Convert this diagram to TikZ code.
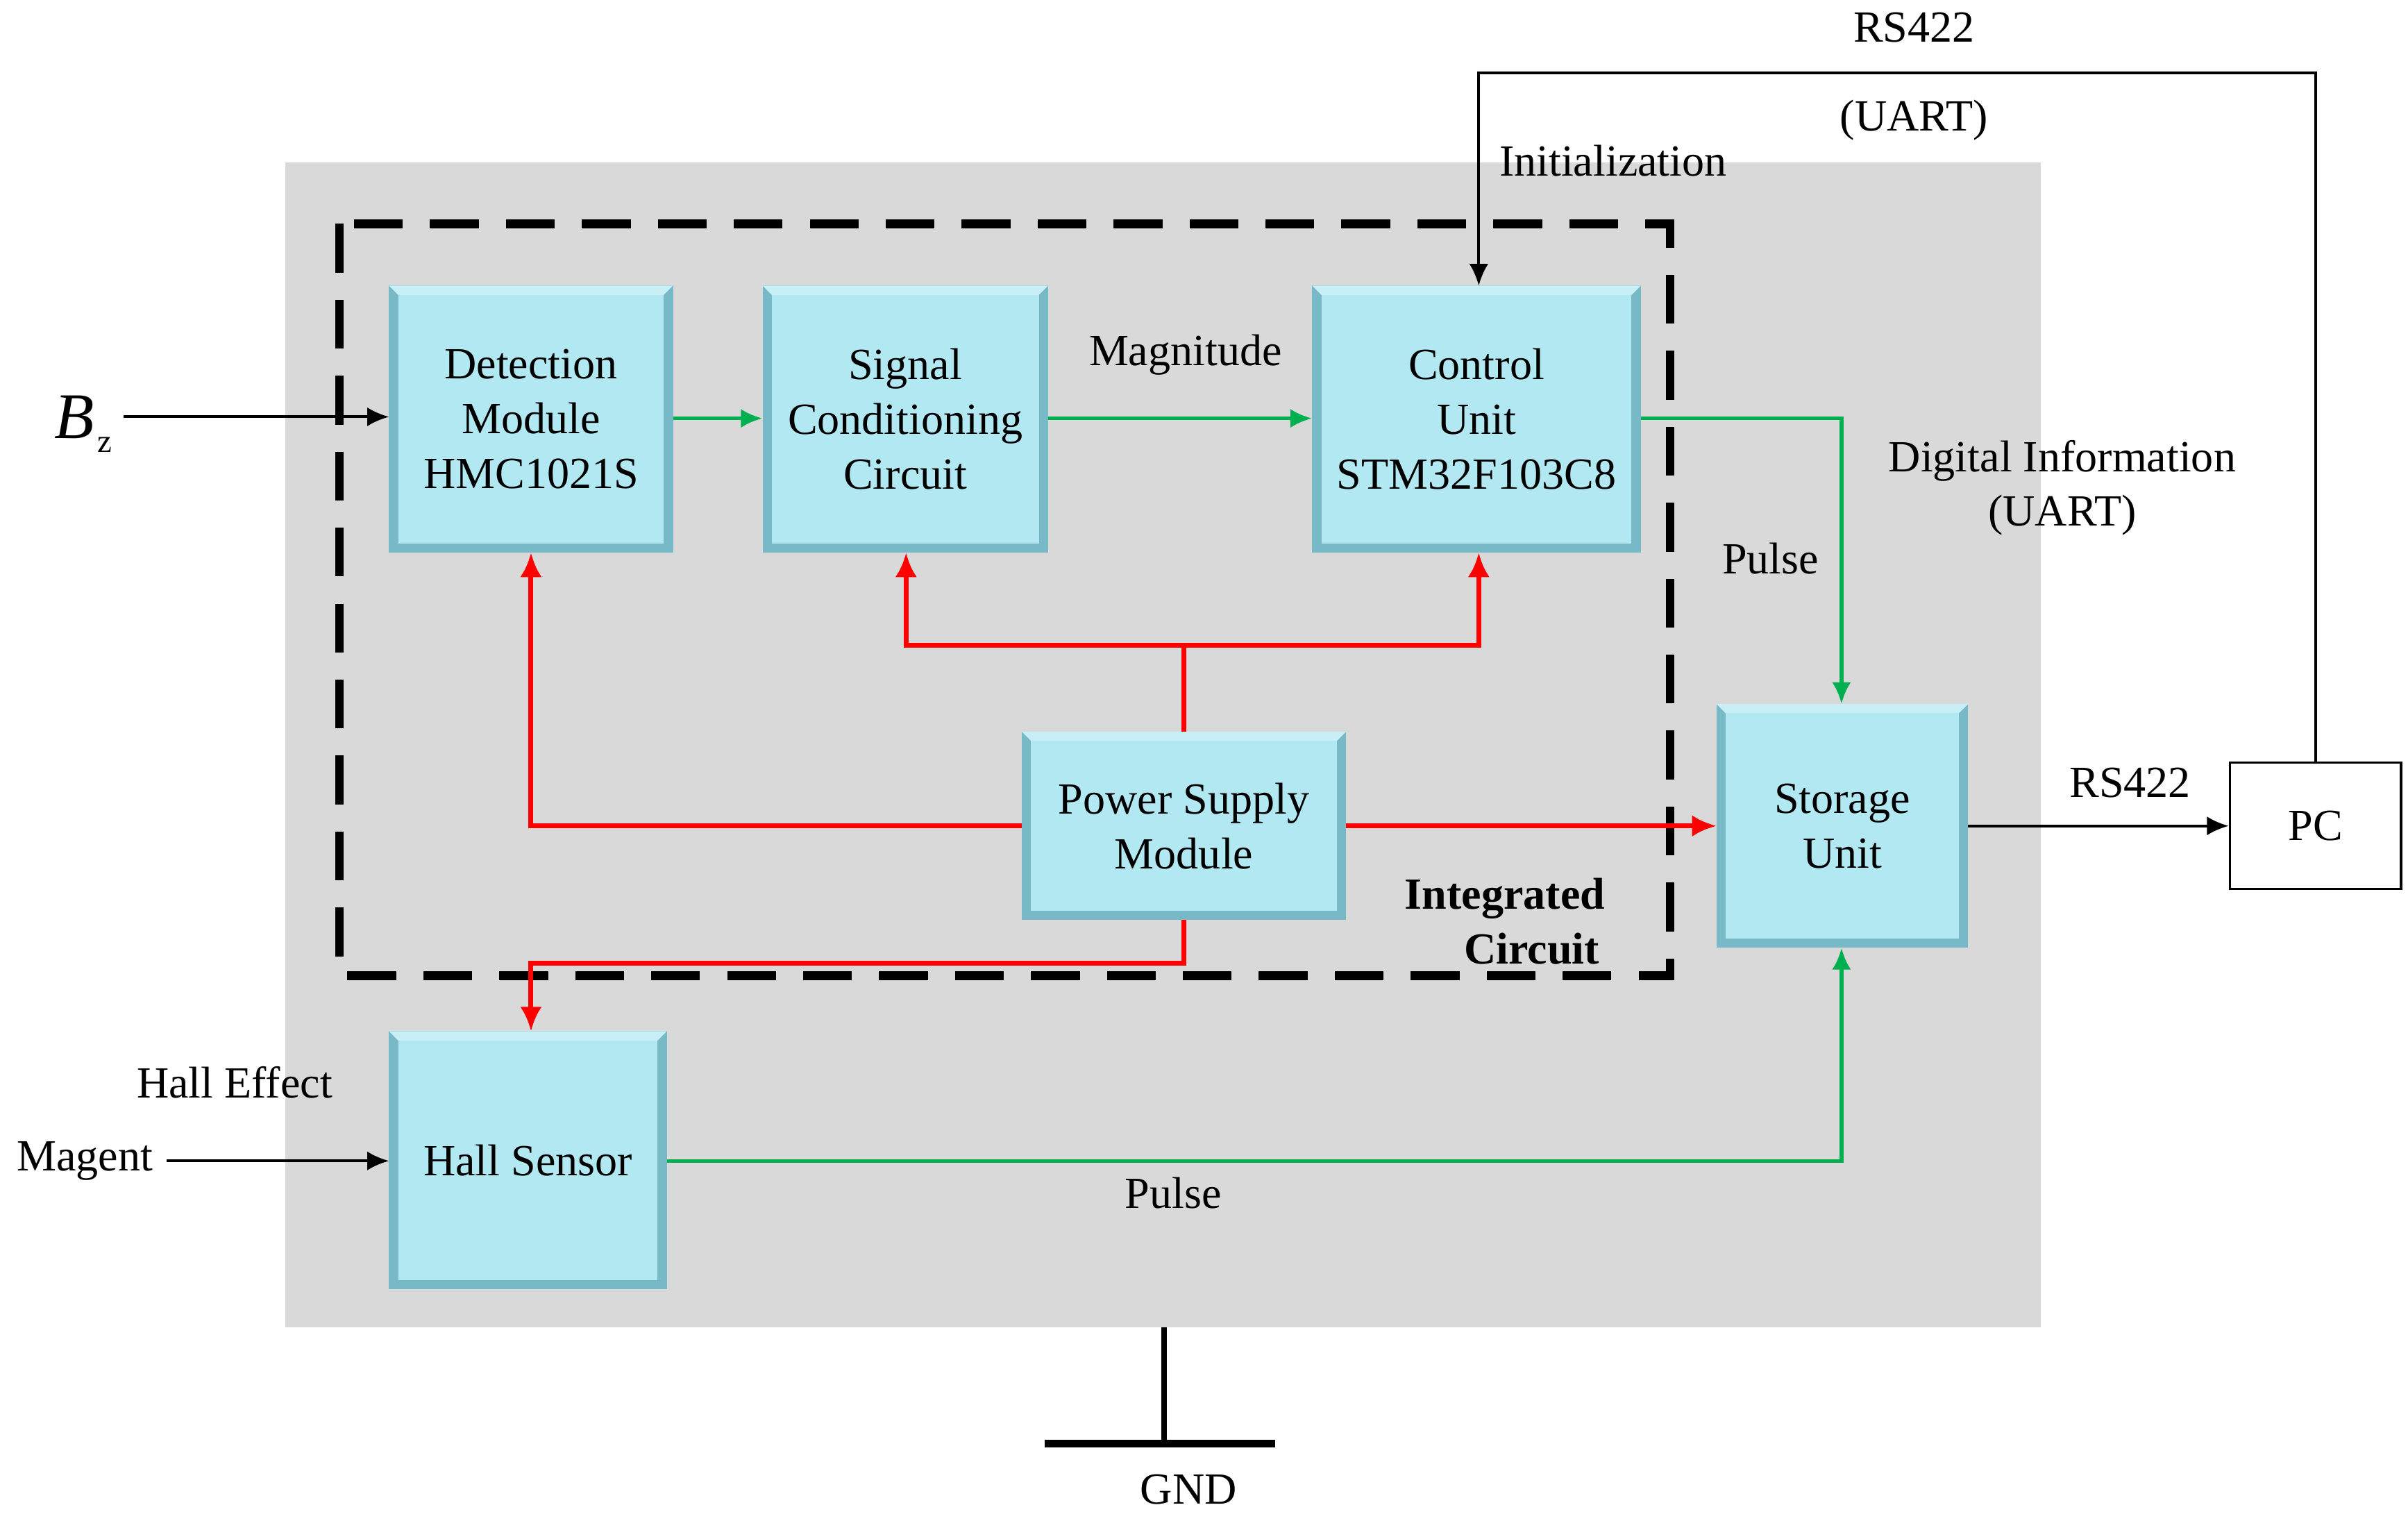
\documentclass[tikz,border=0pt]{standalone}
\usepackage{fontspec}
\setmainfont{Liberation Serif}
\usetikzlibrary{arrows.meta}
\definecolor{bgg}{RGB}{217,217,217}
\definecolor{cyo}{RGB}{120,185,200}
\definecolor{cyi}{RGB}{178,232,242}
\definecolor{gr}{RGB}{0,176,80}
\definecolor{rd}{RGB}{255,0,0}
\newcommand{\bbox}[6]{%
  \fill[cyo] (#2,#3) rectangle (#4,#5);
  \fill[cyi!70!white] (#2,#3) -- (#4,#3) -- ($(#4,#3)+(-6,6)$) -- ($(#2,#3)+(6,6)$) -- cycle;
  \fill[cyi] ($(#2,#3)+(6,6)$) rectangle ($(#4,#5)+(-6,-6)$);
  \node[txt] (#1) at ($(#2,#3)!0.5!(#4,#5)$) {#6};
  \coordinate (#1-nw) at (#2,#3); \coordinate (#1-se) at (#4,#5);}
\usetikzlibrary{calc}
\tikzset{
  txt/.style={align=center,font=\fontsize{8.2}{10.1}\selectfont,inner sep=0pt},
  lab/.style={font=\fontsize{8.2}{10.1}\selectfont,align=center,inner sep=0pt},
  ga/.style={gr,line width=0.7pt,-{Latex[length=4pt,width=3.5pt]}},
  ra/.style={rd,line width=0.9pt,-{Latex[length=4.5pt,width=4pt]}},
  ba/.style={black,line width=0.5pt,-{Latex[length=4pt,width=3.5pt]}},
}
\begin{document}
\begin{tikzpicture}[x=0.1mm,y=-0.1mm]
\useasboundingbox (0,0) rectangle (1560,985);
\fill[bgg] (185,105) rectangle (1322,860);
\draw[line width=1.6pt,dash pattern=on 9pt off 5pt] (220,145) rectangle (1082,632);
\bbox{det}{252}{185}{436}{358}{Detection\\Module\\HMC1021S}
\bbox{sig}{494}{185}{679}{358}{Signal\\Conditioning\\Circuit}
\bbox{ctl}{850}{185}{1063}{358}{Control\\Unit\\STM32F103C8}
\bbox{pow}{662}{474}{872}{596}{Power Supply\\Module}
\bbox{sto}{1112}{456}{1275}{614}{Storage\\Unit}
\bbox{hal}{252}{668}{432}{835}{Hall Sensor}
\node[draw,fill=white,minimum width=11.1mm,minimum height=8.2mm,lab] (pc) at (1500,535) {PC};
% Bz
\node[font=\fontsize{12}{12}\selectfont\itshape,inner sep=0pt] (bz) at (48,270) {B};
\node[font=\fontsize{6}{6}\selectfont,inner sep=0pt] at (68,288) {z};
\coordinate (bzs) at (80,270);
\draw[ba] (bzs) -- (252,270);
% green
\draw[ga] (436,271) -- (494,271);
\draw[ga] (679,271) -- (850,271);
\node[lab] at (768,230) {Magnitude};
\draw[ga] (1063,271) -| (1193,456);
\node[lab] at (1147,362) {Pulse};
\node[lab] at (1336,316) {Digital Information\\(UART)};
\draw[ga] (432,752) -| (1193,614);
\node[lab] at (760,773) {Pulse};
% red
\draw[rd,line width=0.9pt] (767,474) -- (767,418);
\draw[ra] (767,418) -| (587,358);
\draw[ra] (767,418) -| (958,358);
\draw[ra] (662,535) -| (344,358);
\draw[ra] (872,535) -- (1112,535);
\draw[ra] (767,596) |- (344,624) -- (344,668);
% black
\coordinate (mag) at (108,752);
\node[lab] at (55,752) {Magent};
\node[lab] at (152,701) {Hall Effect};
\draw[ba] (mag) -- (252,752);
\draw[ba] (1275,535) -- (pc.west);
\node[lab] at (1380,507) {RS422};
\coordinate (c1) at (1500,47); \coordinate (c2) at (958,47);
\draw[ba] (pc.north) -- (c1) -- (c2) -- (958,185);
\node[lab] at (1240,18) {RS422};
\node[lab] at (1240,78) {(UART)};
\node[lab] at (1045,104) {Initialization};
\node[lab,font=\fontsize{8.2}{10.1}\selectfont\bfseries] at (975,597) {Integrated\\\hspace*{1.2em}Circuit};
% GND
\coordinate (g1) at (754,860); \coordinate (g2) at (754,935);
\draw[line width=1pt] (g1) -- (g2);
\draw[line width=1.4pt] (677,935) -- (826,935);
\node[lab] at (770,965) {GND};
\end{tikzpicture}
\end{document}
